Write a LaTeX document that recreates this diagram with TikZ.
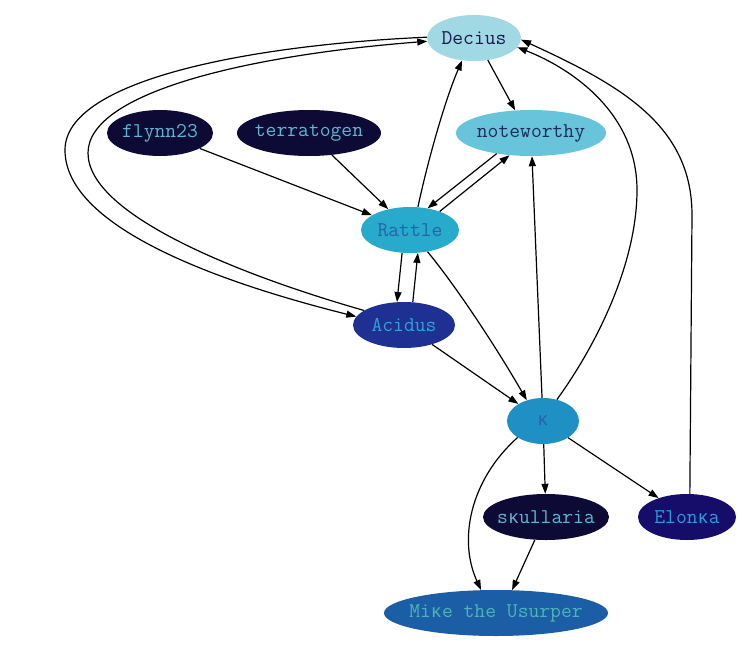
\documentclass[tikz,border=0pt]{standalone}
\usepackage{fontspec}
\newfontfamily\kramono{Liberation Mono}
\usetikzlibrary{arrows.meta,shapes.geometric}
\definecolor{cDecius}{HTML}{A0D8E4}
\definecolor{cNote}{HTML}{68C4DB}
\definecolor{cRattle}{HTML}{28AACD}
\definecolor{cK}{HTML}{1E90C4}
\definecolor{cAcidus}{HTML}{1F3093}
\definecolor{cMike}{HTML}{1C5EA6}
\definecolor{cElonka}{HTML}{160C6A}
\definecolor{cDark}{HTML}{0D0A35}
\definecolor{tDecius}{HTML}{1A1A4F}
\definecolor{tNote}{HTML}{1D2A62}
\definecolor{tRattle}{HTML}{2563A8}
\definecolor{tAcidus}{HTML}{2AA6D4}
\definecolor{tDark}{HTML}{5BB8D0}
\definecolor{tElonka}{HTML}{2A9FD4}
\definecolor{tMike}{HTML}{4DB5B5}
\newcommand{\lbl}[1]{\makebox[0pt][c]{#1}}
\newcommand{\kra}{{\kramono\fontsize{18.5}{20}\selectfont ĸ}}
\begin{document}
\begin{tikzpicture}[x=1pt,y=-1pt,
  nd/.style={ellipse, inner sep=0pt, font=\ttfamily\fontsize{21}{23}\selectfont, minimum height=46pt},
  ed/.style={draw=black, line width=1.2pt, -{Triangle[length=10pt,width=7pt]}}]
\useasboundingbox (0,0) rectangle (739,648);
\node[nd, fill=cDecius, text=tDecius, minimum width=94pt] (Decius) at (474,38) {\lbl{Decius}};
\node[nd, fill=cDark, text=tDark, minimum width=106pt] (flynn) at (160,133) {\lbl{flynn23}};
\node[nd, fill=cDark, text=tDark, minimum width=144pt] (terra) at (309,133) {\lbl{terratogen}};
\node[nd, fill=cNote, text=tNote, minimum width=150pt] (note) at (531,133) {\lbl{noteworthy}};
\node[nd, fill=cRattle, text=tRattle, minimum width=98pt] (Rattle) at (410,230) {\lbl{Rattle}};
\node[nd, fill=cAcidus, text=tAcidus, minimum width=102pt] (Acidus) at (404,325) {\lbl{Acidus}};
\node[nd, fill=cK, text=tRattle, minimum width=72pt] (K) at (543,421) {\lbl{\kra}};
\node[nd, fill=cDark, text=tDark, minimum width=126pt] (skull) at (546,517) {\lbl{s\kra ullaria}};
\node[nd, fill=cElonka, text=tElonka, minimum width=98pt] (Elonka) at (687,517) {\lbl{Elon\kra a}};
\node[nd, fill=cMike, text=tMike, minimum width=224pt] (Mike) at (496,613) {\lbl{Mi\kra e the Usurper}};

\path[ed] (Decius.302) -- (note.125);
\path[ed] (flynn) -- (Rattle);
\path[ed] (terra) -- (Rattle);
\path[ed] (Rattle.71) .. controls (428,160) and (445,100) .. (Decius.242);
\path[ed] (note.211) -- (Rattle.51);
\path[ed] (Rattle.32) -- (note.226);
\path[ed] (Rattle.251) -- (Acidus.107);
\path[ed] (Acidus.69) -- (Rattle.289);
\path[ed] (Rattle.309) .. controls (455,285) and (495,345) .. (K.128);
\path[ed] (Acidus) -- (K);
\path[ed] (K) -- (note);
\path[ed] (K.57) .. controls (600,340) and (637,260) .. (637,190) .. controls (637,115) and (575,70) .. (Decius.348);
\path[ed] (Elonka.83) -- (692,215) .. controls (692,125) and (620,85) .. (Decius.358);
\path[ed] (K) -- (skull);
\path[ed] (K) -- (Elonka);
\path[ed] (K.213) .. controls (470,480) and (458,540) .. (Mike.123);
\path[ed] (skull.244) -- (Mike.55);
\path[ed] (Decius.179) .. controls (250,45) and (65,80) .. (65,150) .. controls (65,230) and (230,285) .. (Acidus.170);
\path[ed] (Acidus.160) .. controls (240,275) and (88,215) .. (88,153) .. controls (88,92) and (250,55) .. (Decius.184);
\end{tikzpicture}
\end{document}
